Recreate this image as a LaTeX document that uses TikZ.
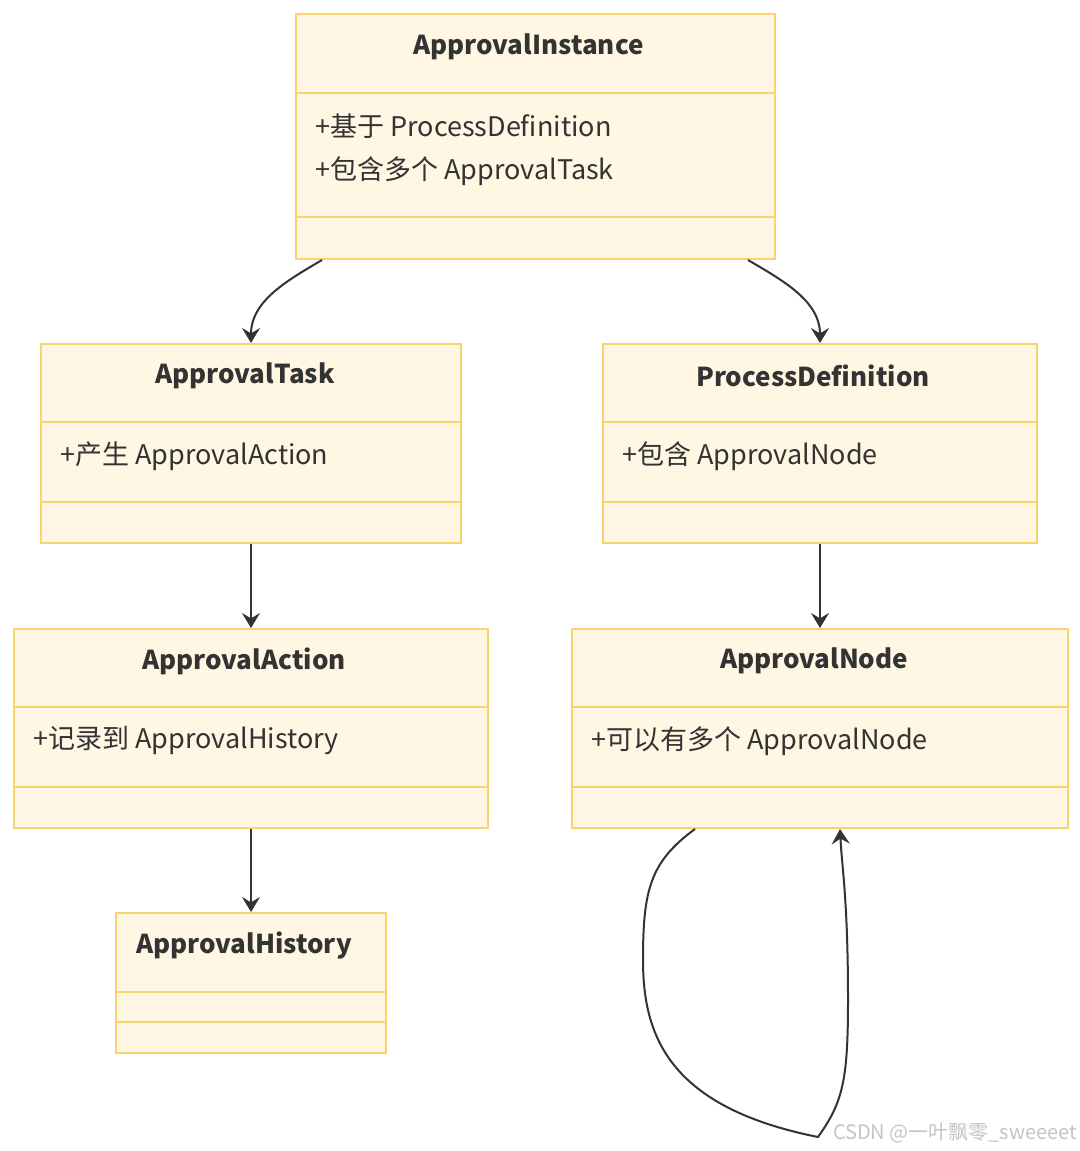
\documentclass[tikz,border=0pt]{standalone}
\usepackage{fontspec}
\setmainfont{Noto Sans CJK SC}
\usetikzlibrary{arrows.meta,positioning,calc}
\definecolor{clsfill}{HTML}{FFF6E3}
\definecolor{clsline}{HTML}{F9D36B}
\definecolor{ink}    {HTML}{333333}
\definecolor{wmgray} {HTML}{C4C4C4}

\begin{document}
\begin{tikzpicture}[x=0.5pt,y=-0.5pt,font=\fontsize{13}{15}\selectfont,
    cls/.style={draw=clsline,fill=clsfill,line width=1pt,inner sep=0pt,anchor=north west},
    sep/.style={draw=clsline,line width=1pt},
    ttl/.style={font=\fontsize{13}{15}\selectfont\bfseries,text=ink,inner sep=0pt},
    attr/.style={anchor=west,text=ink,inner sep=0pt,font=\fontsize{13.5}{15}\selectfont},
    rel/.style={draw=ink,line width=1pt,-{Stealth[length=7.5pt,width=9pt,inset=2.7pt]}}]
  \useasboundingbox (0,0) rectangle (1080,1151);

  % classes
  \node[cls,minimum width=239.5pt,minimum height=122.5pt] (inst) at (295,13) {};
  \node[cls,minimum width=210pt,minimum height=99.5pt] (task) at (40,343) {};
  \node[cls,minimum width=217pt,minimum height=99.5pt] (pdef) at (602,343) {};
  \node[cls,minimum width=237pt,minimum height=99.5pt] (action) at (13,628) {};
  \node[cls,minimum width=248pt,minimum height=99.5pt] (anode) at (571,628) {};
  \node[cls,minimum width=135pt,minimum height=70pt] (hist) at (115,912) {};

  % compartments
  \draw[sep] ($(inst.north west)+(0,80)$) -- ($(inst.north east)+(0,80)$);
  \draw[sep] ($(inst.north west)+(0,204)$) -- ($(inst.north east)+(0,204)$);
  \foreach \c in {task,pdef,action,anode}{
    \draw[sep] ($(\c.north west)+(0,79)$) -- ($(\c.north east)+(0,79)$);
    \draw[sep] ($(\c.north west)+(0,159)$) -- ($(\c.north east)+(0,159)$);
  }
  \draw[sep] ($(hist.north west)+(0,80)$) -- ($(hist.north east)+(0,80)$);
  \draw[sep] ($(hist.north west)+(0,110)$) -- ($(hist.north east)+(0,110)$);

  % titles
  \node[ttl] (instT) at ($(inst.north)+(-7,34)$) {ApprovalInstance};
  \node[ttl] (taskT) at ($(task.north)+(-6,33)$) {ApprovalTask};
  \node[ttl] (pdefT) at ($(pdef.north)+(-7,33)$) {ProcessDefinition};
  \node[ttl] (actionT) at ($(action.north)+(-7,33)$) {ApprovalAction};
  \node[ttl] (anodeT) at ($(anode.north)+(-6,33)$) {ApprovalNode};
  \node[ttl] (histT) at ($(hist.north)+(-7,34)$) {ApprovalHistory};

  % attributes
  \node[attr] (instA) at ($(inst.north west)+(20,113)$) {+基于 ProcessDefinition};
  \node[attr] (instB) at ($(inst.north west)+(20,158)$) {+包含多个 ApprovalTask};
  \node[attr] (taskA) at ($(task.north west)+(20,113)$) {+产生 ApprovalAction};
  \node[attr] (pdefA) at ($(pdef.north west)+(20,113)$) {+包含 ApprovalNode};
  \node[attr] (actionA) at ($(action.north west)+(20,113)$) {+记录到 ApprovalHistory};
  \node[attr] (anodeA) at ($(anode.north west)+(20,113)$) {+可以有多个 ApprovalNode};

  % relations
  \draw[rel] ($(inst.south west)+(27,0)$) .. controls +(-32,19) and +(0,-43) .. (task.north);
  \draw[rel] ($(inst.south east)+(-28,0)$) .. controls +(32,19) and +(0,-43) .. (pdef.north);
  \draw[rel] (task.south) -- (action.north);
  \draw[rel] (pdef.south) -- (anode.north);
  \draw[rel] (action.south) -- (hist.north);
  \draw[rel] ($(anode.south west)+(124,0)$) .. controls +(-45,33) and +(0,-70) .. (643,960)
    .. controls +(0,75) and +(-150,-30) .. (818,1137)
    .. controls +(25,-35) and +(0,80) .. (848,1000)
    .. controls +(0,-100) and +(2,40) .. ($(anode.south west)+(269,0)$);

  \node[text=wmgray,font=\fontsize{10}{12}\selectfont] (mark) at (955,1133) {CSDN @一叶飘零\_sweeeet};
\end{tikzpicture}
\end{document}
